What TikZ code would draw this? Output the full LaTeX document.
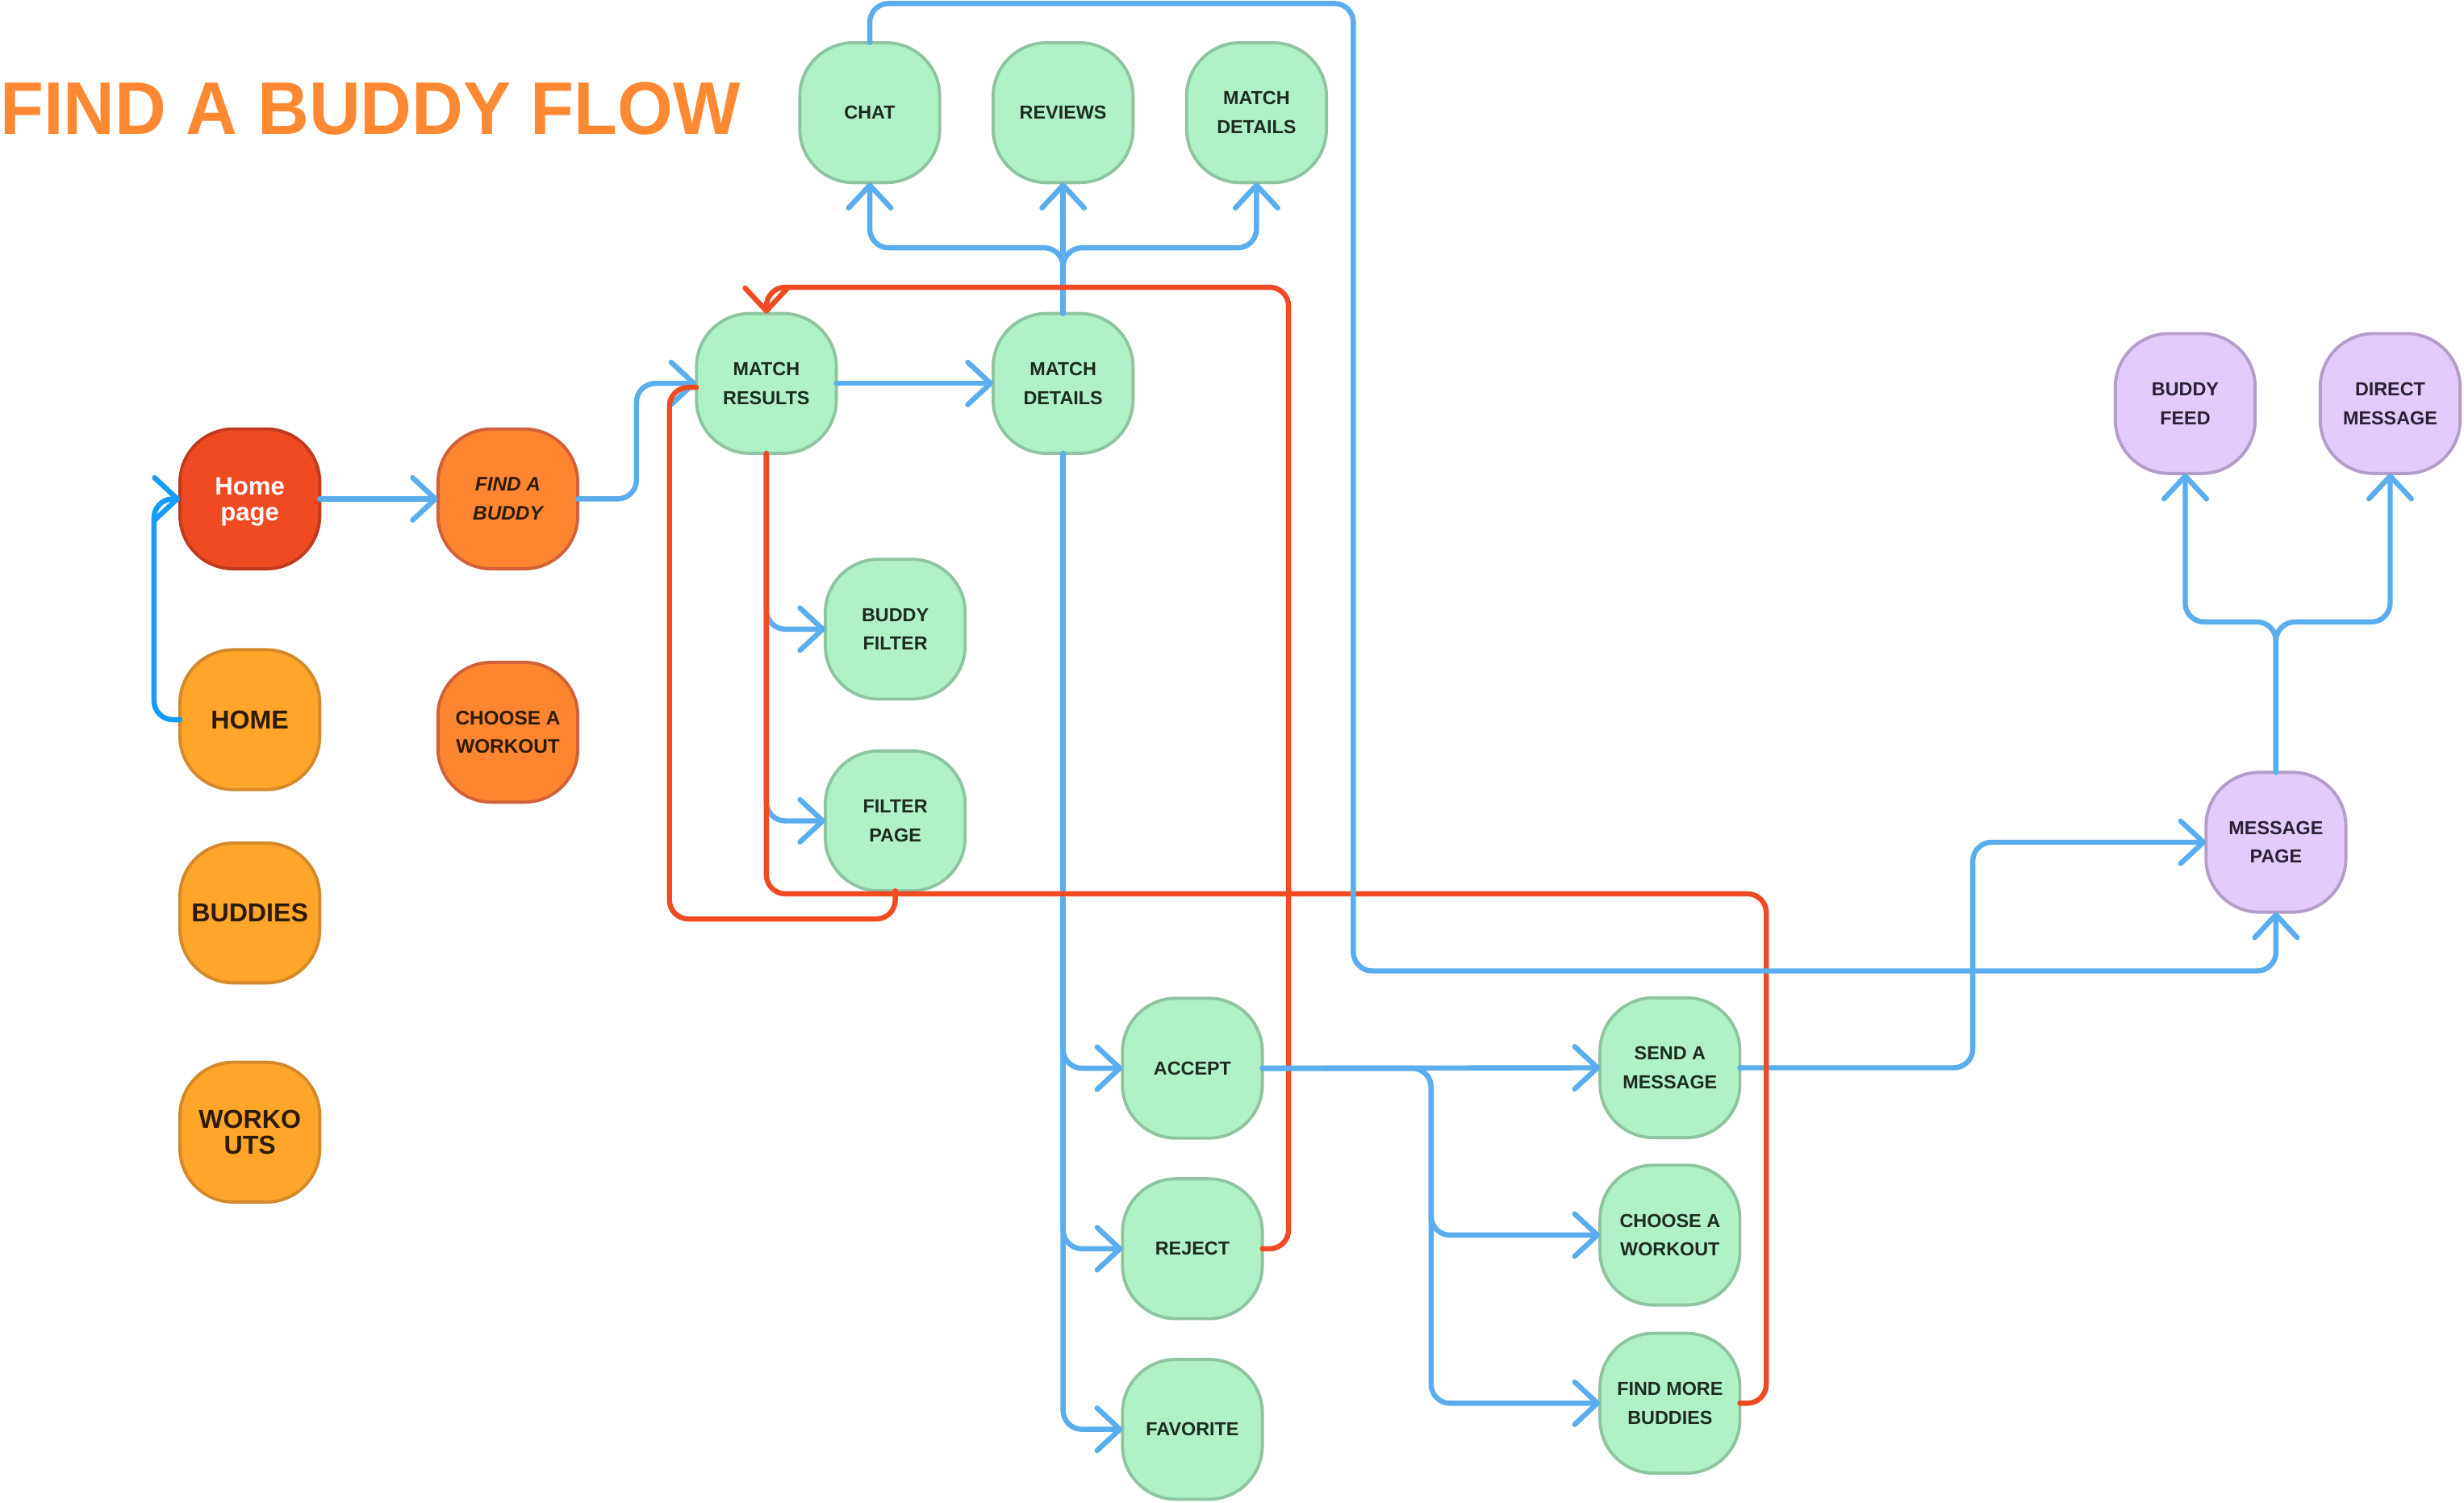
\documentclass[tikz,border=0pt]{standalone}
\usepackage{fontspec}
\setmainfont{Liberation Sans}
\usetikzlibrary{arrows.meta}
\definecolor{gfill}{HTML}{B0F2C8}
\definecolor{gline}{HTML}{8EC5A0}
\definecolor{gtext}{HTML}{1E2B22}
\definecolor{pfill}{HTML}{E3CCFC}
\definecolor{pline}{HTML}{B49DCB}
\definecolor{ptext}{HTML}{2A2233}
\definecolor{afill}{HTML}{FFA52A}
\definecolor{aline}{HTML}{D4892A}
\definecolor{ofill}{HTML}{FF8630}
\definecolor{oline}{HTML}{D0613A}
\definecolor{rfill}{HTML}{F04A23}
\definecolor{rline}{HTML}{C03A20}
\definecolor{btext}{HTML}{2E1B07}
\definecolor{blueline}{HTML}{5AAEEE}
\definecolor{brightblue}{HTML}{169BFF}
\definecolor{redline}{HTML}{F04A23}
\definecolor{titlecol}{HTML}{FF8833}
\tikzset{
  box/.style={rectangle, rounded corners=34pt, minimum width=89pt, minimum height=89pt,
    line width=2pt, align=center, inner sep=0pt, outer sep=0pt},
  gbox/.style={box, fill=gfill, draw=gline, text=gtext, font=\fontsize{12}{18.3}\selectfont\bfseries},
  pbox/.style={box, fill=pfill, draw=pline, text=ptext, font=\fontsize{12}{18.3}\selectfont\bfseries},
  abox/.style={box, fill=afill, draw=aline, text=btext, font=\fontsize{16.5}{16.3}\selectfont\bfseries},
  obox/.style={box, fill=ofill, draw=oline, text=btext, font=\fontsize{12.5}{18.2}\selectfont\bfseries},
  rbox/.style={box, fill=rfill, draw=rline, text=white, font=\fontsize{16}{16.4}\selectfont\bfseries},
  conn/.style={line width=3.3pt, rounded corners=12pt, line cap=round, line join=round},
  barbtip/.tip={Straight Barb[length=14.5pt, width=27pt, round]},
  bl/.style={conn, draw=blueline, -barbtip},
  bbl/.style={conn, draw=brightblue, -barbtip},
  rd/.style={conn, draw=redline},
  rda/.style={conn, draw=redline, -barbtip},
}
\begin{document}
\begin{tikzpicture}[x=1pt, y=-1pt]
\useasboundingbox (0,0) rectangle (1568,956);

% title
\node[anchor=base west, inner sep=0pt, text=titlecol, font=\fontsize{47.5}{50}\selectfont\bfseries] (title) at (0,85.5) {\scalebox{0.955}[1]{FIND A BUDDY FLOW}};

% left column
\node[rbox] (homepage) at (159,317.5) {Home\\\raisebox{0pt}[\height][0pt]{page}};
\node[abox] (home) at (159,458) {HOME};
\node[abox] (buddies) at (159,581) {BUDDIES};
\node[abox] (workouts) at (159,720.5) {WORKO\\UTS};
\node[obox, font=\fontsize{12.5}{18.7}\selectfont\bfseries\itshape] (fab) at (323.2,317.5) {FIND A\\BUDDY};
\node[obox] (chooseo) at (323.2,466) {CHOOSE A\\WORKOUT};

% green nodes
\node[gbox] (chat) at (553.5,71.7) {CHAT};
\node[gbox] (reviews) at (676.5,71.7) {REVIEWS};
\node[gbox] (mdtop) at (799.6,71.7) {MATCH\\DETAILS};
\node[gbox] (mr) at (487.7,244) {MATCH\\RESULTS};
\node[gbox] (md) at (676.5,244) {MATCH\\DETAILS};
\node[gbox] (bf) at (569.7,400.4) {BUDDY\\FILTER};
\node[gbox] (fp) at (569.7,522.4) {FILTER\\PAGE};
\node[gbox] (accept) at (758.8,679.8) {ACCEPT};
\node[gbox] (reject) at (758.8,794.7) {REJECT};
\node[gbox] (favorite) at (758.8,909.6) {FAVORITE};
\node[gbox] (sendmsg) at (1062.7,679.5) {SEND A\\MESSAGE};
\node[gbox] (chooseg) at (1062.7,786) {CHOOSE A\\WORKOUT};
\node[gbox] (findmore) at (1062.7,893) {FIND MORE\\BUDDIES};

% purple nodes
\node[pbox] (buddyfeed) at (1390.6,256.8) {BUDDY\\FEED};
\node[pbox] (directmsg) at (1521,256.8) {DIRECT\\MESSAGE};
\node[pbox] (msgpage) at (1448.3,536) {MESSAGE\\PAGE};

% ---- blue connectors (under red)
\draw[bbl] (home.west) -- (98,458) -- (98,317.5) -- (homepage.west);
\draw[bl] (homepage.east) -- (fab.west);
\draw[bl] (fab.east) -- (405,317.5) |- (mr.west);
\draw[bl] (mr.east) -- (md.west);
\draw[bl] (md.north) -- (676.5,157.7) -| (chat.south);
\draw[bl] (md.north) -- (reviews.south);
\draw[bl] (md.north) -- (676.5,157.7) -| (mdtop.south);
\draw[bl] (md.south) |- (accept.west);
\draw[bl] (md.south) |- (reject.west);
\draw[bl] (md.south) |- (favorite.west);
\draw[bl] (mr.south) |- (bf.west);
\draw[bl] (mr.south) |- (fp.west);
\draw[bl] (sendmsg.east) -- (1255.4,679.5) |- (msgpage.west);
\draw[bl] (msgpage.north) -- (1448.3,395.8) -| (buddyfeed.south);
\draw[bl] (msgpage.north) -- (1448.3,395.8) -| (directmsg.south);

% ---- red connectors
\draw[rda] (reject.east) -- (820,794.7) -- (820,182.8) -- (487.7,182.8) -- (mr.north);
\draw[rd] (fp.south) -- (569.7,584.8) -- (426,584.8) -- (426,246.5) -- ([yshift=-2.5pt]mr.west);
\draw[rd] (mr.south) -- (487.7,568.8) -- (1124,568.8) -- (1124,893) -- (findmore.east);

% ---- blue connectors (over red)
\draw[bl] (accept.east) -- (sendmsg.west);
\draw[bl] (accept.east) -- (910.7,679.8) |- (chooseg.west);
\draw[bl] (accept.east) -- (910.7,679.8) |- (findmore.west);
\draw[bl] (chat.north) -- (553.5,2.2) -- (861.2,2.2) -- (861.2,617.9) -| (msgpage.south);
\end{tikzpicture}
\end{document}
